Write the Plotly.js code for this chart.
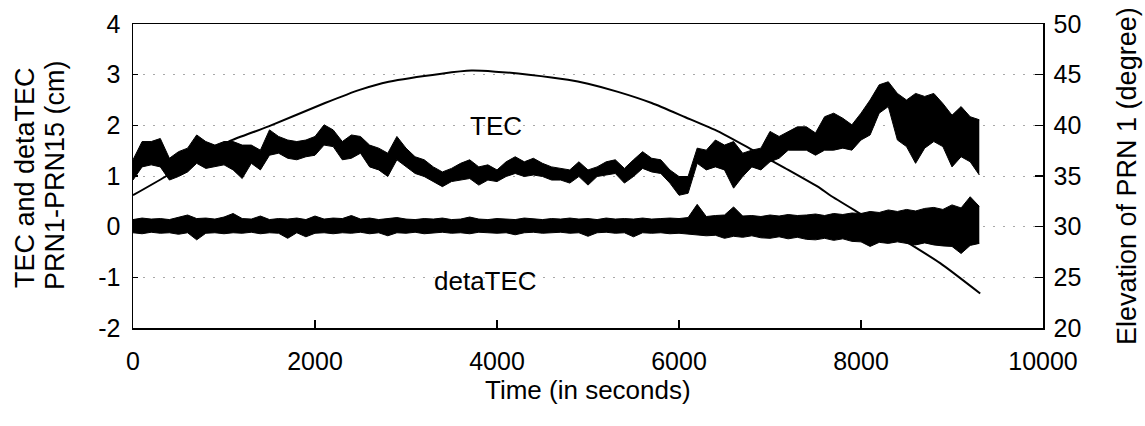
<!DOCTYPE html>
<html>
<head>
<meta charset="utf-8">
<script src="https://cdn.plot.ly/plotly-3.0.1.min.js"></script>
<style>html,body{margin:0;padding:0;background:#fff;}#chart{width:1145px;height:426px;}</style>
</head>
<body>
<div id="chart"></div>
<script>
// Time grid (seconds) for the TEC and detaTEC bands
const timeSec = [0,100,200,300,400,500,600,700,800,900,1000,1100,1200,1300,1400,1500,1600,1700,1800,1900,
2000,2100,2200,2300,2400,2500,2600,2700,2800,2900,3000,3100,3200,3300,3400,3500,3600,3700,3800,3900,
4000,4100,4200,4300,4400,4500,4600,4700,4800,4900,5000,5100,5200,5300,5400,5500,5600,5700,5800,5900,
6000,6100,6200,6300,6400,6500,6600,6700,6800,6900,7000,7100,7200,7300,7400,7500,7600,7700,7800,7900,
8000,8100,8200,8300,8400,8500,8600,8700,8800,8900,9000,9100,9200,9300];

// TEC band: upper and lower envelope (cm)
const tecUpper = [1.32,1.68,1.68,1.74,1.35,1.48,1.55,1.81,1.68,1.61,1.68,1.68,1.61,1.61,1.51,1.91,1.78,1.71,1.68,1.71,
1.78,2.01,1.91,1.68,1.81,1.78,1.61,1.55,1.45,1.78,1.55,1.38,1.32,1.18,1.08,1.15,1.25,1.32,1.18,1.22,
1.12,1.28,1.38,1.28,1.35,1.25,1.18,1.15,1.12,1.28,1.12,1.18,1.28,1.32,1.15,1.32,1.48,1.35,1.32,1.12,
0.99,0.99,1.55,1.51,1.71,1.61,1.68,1.45,1.51,1.55,1.88,1.78,1.88,1.97,1.97,1.85,2.17,2.24,2.14,2.01,
2.24,2.50,2.80,2.86,2.63,2.50,2.63,2.57,2.63,2.43,2.20,2.37,2.17,2.11];
const tecLower = [0.92,1.18,1.22,1.18,0.92,0.99,1.08,1.25,1.15,1.18,1.22,1.12,0.95,1.25,1.12,1.41,1.45,1.35,1.32,1.38,
1.41,1.61,1.58,1.32,1.35,1.45,1.18,1.12,0.99,1.32,1.18,1.05,0.99,0.89,0.79,0.89,0.92,0.95,0.82,0.92,
0.89,0.99,1.05,0.99,1.02,0.99,0.92,0.92,0.86,0.99,0.82,0.99,1.02,1.05,0.86,0.99,1.15,1.08,1.05,0.86,
0.62,0.66,1.25,1.12,1.18,1.12,0.76,0.99,1.18,1.12,1.28,1.35,1.51,1.51,1.51,1.41,1.51,1.51,1.55,1.51,
1.71,1.81,2.24,2.37,1.71,1.58,1.25,1.55,1.68,1.58,1.18,1.38,1.28,1.02];

// detaTEC band: upper and lower envelope (cm)
const dtecUpper = [0.14,0.17,0.15,0.16,0.14,0.18,0.23,0.16,0.17,0.15,0.19,0.26,0.16,0.15,0.21,0.14,0.16,0.15,0.17,0.14,
0.21,0.15,0.17,0.16,0.22,0.15,0.17,0.14,0.16,0.18,0.15,0.14,0.16,0.15,0.17,0.14,0.15,0.19,0.15,0.14,
0.16,0.15,0.14,0.17,0.15,0.14,0.16,0.15,0.17,0.15,0.16,0.14,0.17,0.15,0.16,0.15,0.17,0.15,0.16,0.17,
0.16,0.18,0.44,0.20,0.22,0.23,0.39,0.21,0.22,0.20,0.23,0.21,0.24,0.22,0.23,0.25,0.22,0.26,0.24,0.27,
0.26,0.30,0.28,0.33,0.30,0.34,0.31,0.36,0.38,0.34,0.43,0.37,0.59,0.40];
const dtecLower = [-0.12,-0.14,-0.11,-0.13,-0.12,-0.15,-0.12,-0.26,-0.13,-0.12,-0.14,-0.12,-0.13,-0.11,-0.14,-0.12,-0.13,-0.23,-0.12,-0.20,
-0.13,-0.12,-0.14,-0.12,-0.13,-0.11,-0.14,-0.12,-0.18,-0.12,-0.13,-0.11,-0.14,-0.12,-0.11,-0.13,-0.12,-0.14,-0.11,-0.12,
-0.13,-0.12,-0.16,-0.12,-0.11,-0.13,-0.12,-0.11,-0.13,-0.12,-0.19,-0.12,-0.11,-0.13,-0.12,-0.20,-0.12,-0.13,-0.12,-0.14,
-0.13,-0.15,-0.16,-0.18,-0.17,-0.23,-0.19,-0.21,-0.18,-0.22,-0.23,-0.20,-0.24,-0.21,-0.25,-0.26,-0.23,-0.27,-0.24,-0.29,
-0.30,-0.39,-0.31,-0.33,-0.30,-0.33,-0.36,-0.32,-0.36,-0.38,-0.39,-0.53,-0.37,-0.33];

// Elevation of PRN 1 (degree), right axis
const elevTime = [0,350,680,1050,1490,2110,2490,2810,3390,3720,3980,4350,4780,5000,5330,5700,6070,6430,6800,7160,7550,7660,8025,8500,8870,9310];
const elevDeg  = [33.1,34.9,36.7,38.4,39.9,42.2,43.5,44.3,45.1,45.4,45.3,45.0,44.5,44.1,43.3,42.2,40.8,39.4,37.6,35.8,33.8,33.1,31.1,28.5,26.4,23.4];

// Axis ticks
const xTicks = [0,2000,4000,6000,8000,10000];
const yTicks = [-2,-1,0,1,2,3,4];
const y2Ticks = [20,25,30,35,40,45,50];

const FONT = 'Liberation Sans, Arial, sans-serif';
const black = '#000';

const traces = [
  {x: timeSec, y: tecUpper, mode: 'lines', line: {color: black, width: 1}, hoverinfo: 'skip', showlegend: false},
  {x: timeSec, y: tecLower, mode: 'lines', line: {color: black, width: 1}, fill: 'tonexty', fillcolor: black, hoverinfo: 'skip', showlegend: false},
  {x: timeSec, y: dtecUpper, mode: 'lines', line: {color: black, width: 1}, hoverinfo: 'skip', showlegend: false},
  {x: timeSec, y: dtecLower, mode: 'lines', line: {color: black, width: 1}, fill: 'tonexty', fillcolor: black, hoverinfo: 'skip', showlegend: false},
  {x: elevTime, y: elevDeg, yaxis: 'y2', mode: 'lines', line: {color: black, width: 2, shape: 'spline', smoothing: 0.6}, hoverinfo: 'skip', showlegend: false}
];

const layout = {
  width: 1145, height: 426,
  margin: {l: 133, r: 102, t: 24, b: 98},
  paper_bgcolor: '#fff', plot_bgcolor: '#fff',
  font: {family: FONT, color: black, size: 25},
  showlegend: false,
  xaxis: {
    range: [0, 10000], tickvals: xTicks, ticktext: xTicks.map(String),
    showline: true, mirror: true, linecolor: black, linewidth: 1.5,
    ticks: 'inside', ticklen: 8, tickcolor: black, tickwidth: 1.5,
    showgrid: false, zeroline: false, ticklabelstandoff: 10,
    tickfont: {size: 25, family: FONT, color: black}
  },
  yaxis: {
    range: [-2, 4], tickvals: yTicks, ticktext: yTicks.map(String),
    showline: true, linecolor: black, linewidth: 1.5,
    ticks: 'inside', ticklen: 5, tickcolor: black, tickwidth: 1.5,
    showgrid: true, gridcolor: '#a8a8a8', griddash: '2px,8px', gridwidth: 1,
    zeroline: false, ticklabelstandoff: 6,
    tickfont: {size: 25, family: FONT, color: black}
  },
  yaxis2: {
    range: [20, 50], tickvals: y2Ticks, ticktext: y2Ticks.map(String),
    overlaying: 'y', side: 'right',
    showline: true, linecolor: black, linewidth: 1.5,
    ticks: 'inside', ticklen: 8, tickcolor: black, tickwidth: 1.5,
    showgrid: false, zeroline: false, ticklabelstandoff: 4,
    tickfont: {size: 25, family: FONT, color: black}
  },
  annotations: [
    {text: 'TEC', x: 3989, y: 1.99, xref: 'x', yref: 'y', showarrow: false, font: {size: 26, family: FONT, color: black}},
    {text: 'detaTEC', x: 3879, y: -1.07, xref: 'x', yref: 'y', showarrow: false, font: {size: 26, family: FONT, color: black}},
    {text: 'Time (in seconds)', x: 588, y: 390, xref: 'paper', yref: 'paper', xanchor: 'center', yanchor: 'middle', showarrow: false, font: {size: 26, family: FONT, color: black}},
    {text: 'TEC and detaTEC', x: 25, y: 178, xref: 'paper', yref: 'paper', xanchor: 'center', yanchor: 'middle', showarrow: false, textangle: -90, font: {size: 27, family: FONT, color: black}},
    {text: 'PRN1-PRN15 (cm)', x: 55, y: 175, xref: 'paper', yref: 'paper', xanchor: 'center', yanchor: 'middle', showarrow: false, textangle: -90, font: {size: 27, family: FONT, color: black}},
    {text: 'Elevation of PRN 1 (degree)', x: 1127, y: 176, xref: 'paper', yref: 'paper', xanchor: 'center', yanchor: 'middle', showarrow: false, textangle: -90, font: {size: 27, family: FONT, color: black}}
  ]
};

// convert pixel positions of the title annotations into paper coordinates
const plotW = 1145 - 133 - 102, plotH = 426 - 24 - 98;
layout.annotations.forEach(a => {
  if (a.xref === 'paper') {
    a.x = (a.x - 133) / plotW;
    a.y = 1 - (a.y - 24) / plotH;
  }
});

Plotly.newPlot('chart', traces, layout, {staticPlot: true, displayModeBar: false});
</script>
</body>
</html>
